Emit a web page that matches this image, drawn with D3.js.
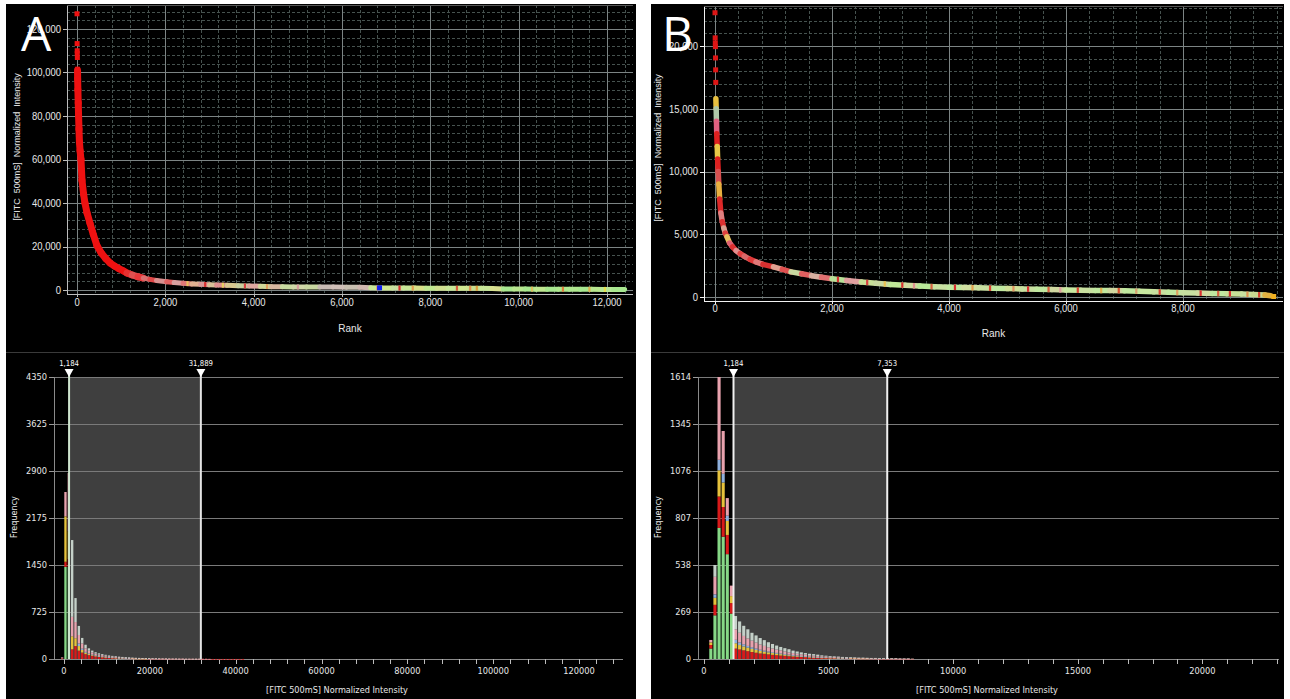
<!DOCTYPE html>
<html><head><meta charset="utf-8">
<script src="https://cdn.jsdelivr.net/npm/d3@7"></script>
<style>body{margin:0;background:#fff;}svg{display:block}</style>
</head><body>
<svg id="c" width="1290" height="699"></svg>
<script>
// ---------------- DATA ----------------
// Panel A - rank plot
const rankTicksA = [0,2000,4000,6000,8000,10000,12000];
const intensityTicksA = [0,20000,40000,60000,80000,100000,120000];
const rankA = [12,15,20,28,36,45,55,70,90,113,150,180,226,294,370,450,550,650,745,850,950,1050,1130,1250,1380,1500,1650,1800,2030,2200,2400,2600,2800,3000,3160,3400,3650,3900,4150,4400,4650,4900,5200,5500,5800,6100,6400,6650,6900,7150,7400,7650,7900,8150,8400,8650,8900,9150,9400,9650,9900,10150,10400,10650,10900,11150,11400,11650,11900,12150,12400];
const intensityA = [101000,97000,92000,86000,80000,74000,68000,64000,60000,50400,44000,40000,35500,30700,25500,20500,17000,14500,12500,11000,9800,8800,7800,6900,6100,5500,4900,4400,3800,3400,3100,2800,2600,2400,2300,2150,2000,1850,1700,1550,1450,1400,1380,1360,1340,1320,1300,1000,950,920,900,880,860,840,820,800,780,760,740,450,430,410,390,370,350,330,310,290,270,250,230];
const segColorA = ["#ee1111","#ee1111","#ee1111","#ee1111","#ee1111","#ee1111","#ee1111","#ee1111","#ee1111","#ee1111","#ee1111","#ee1111","#ee1111","#ee1111","#ee1111","#ee1111","#ee1111","#ee1111","#ee1111","#ee1111","#ee1111","#ee1111",
 "#e83030","#e05050","#e8383a","#d87070","#e04848","#d89090","#e06060","#d8a0a0","#e07878","#e0b090","#d89898","#d8c098","#e09090","#d8c890","#c8d0a0","#e0a8a0","#d0d898","#d8b8a0","#c8dca0","#d0d8a8","#c8d8a0","#c8bcb4","#d0c0b8","#c8c0b0","#d0b8b0","#c8e898","#d0e890","#c8e0a0","#c8e898","#d8e088","#c0e890","#d0e090","#c8e898","#d0e890","#c8e090","#c8e898","#d8e090","#a8e890","#b8e890","#a8e890","#c0e890","#a8e890","#b0e890","#b0e890","#a8e890","#b8e890","#b8e898","#a8e890"];
const stripeRankA = [2500,2900,3300,3800,4300,5000,6800,7300,7600,8600,8900,9050,10300,11000,11600,11950];
const stripeValA  = [2950,2500,2200,1880,1600,1390,960,905,885,805,780,770,395,340,295,265];
const stripeColorA = ["#e8c060","#d83030","#e8d060","#d84040","#e0a060","#d8a0a0","#e09060","#d83030","#e0a050","#d86040","#e09050","#e0a040","#e0c060","#e08040","#e0b050","#e8e050"];
const pointRankA = [0,3,5,6,8,10,6850];
const pointValA = [127000,113300,110000,108700,106900,101500,1000];
const pointColorA = ["#ee1111","#ee1111","#ee1111","#ee1111","#ee1111","#ee1111","#1020ee"];

// Panel B - rank plot
const rankTicksB = [0,2000,4000,6000,8000];
const intensityTicksB = [0,5000,10000,15000,20000];
const rankB = [15,20,25,30,38,45,55,65,80,100,125,150,175,205,250,300,360,430,500,600,700,820,1000,1150,1300,1480,1650,1820,2000,2250,2500,2750,3000,3250,3500,3750,4000,4250,4500,4750,5000,5250,5500,5750,6000,6250,6500,6750,7000,7250,7500,7750,8000,8250,8500,8750,9000,9200,9400,9500];
const intensityB = [15800,15000,14000,13000,12000,11000,10000,9000,7800,6700,6000,5500,5100,4800,4300,4000,3700,3450,3250,3000,2800,2600,2400,2200,2000,1850,1700,1570,1450,1320,1200,1100,1000,930,870,820,780,760,730,700,670,640,610,590,560,540,520,510,500,450,410,370,340,310,280,260,240,200,160,100];
const segColorB = ["#e8c040","#b0c8a8","#e06080","#dd2020","#e8c848","#dd2020","#d85050","#e8b040","#dd2828","#e08080","#dd3030","#d8a090","#e04040","#e8c060","#e06070","#dd3030","#e09090","#e04040","#d86868","#e03838","#e07878","#d83030","#e0a090","#e05050","#c8d8a0","#e06060","#d8b0a0","#e07070","#b8e098","#e0a0a0","#c8e098","#c8d8a0","#c0e898","#d0dca0","#b8e898","#c8e0a0","#c0e8a0","#d0e0a0","#c8e0a0","#c0e8a0","#d0e098","#c8e0a0","#c0e8a0","#d0d8a0","#c8e8a0","#c8e0a0","#c0e8a0","#d0d8a0","#c0e8a0","#c8e8a0","#c8e0a0","#c0e8a0","#c8e0a0","#d0dca0","#c0e8a0","#c8e098","#c8e0a0","#c8d890","#e0b040"];
const stripeRankB = [2100,2300,2600,2900,3200,3400,3700,4100,4400,4700,5100,5350,5700,5900,6200,6600,6900,7200,7600,7900,8300,8600,8800,9100,9300];
const stripeValB  = [1400,1300,1160,1040,950,890,830,775,740,705,660,630,595,570,545,515,503,460,395,355,305,275,255,220,180];
const stripeColorB = ["#d83030","#e0a0a0","#d84040","#e8c050","#d83030","#e09090","#d86040","#d83030","#e0a050","#d84030","#e09060","#d83030","#d86040","#e0a0a0","#d84030","#e0b050","#d85030","#d8a070","#d84030","#e0a060","#d83030","#d86040","#d83030","#e09050","#d84030"];
const pointRankB = [0,3,5,7,9,11,13,9550];
const pointValB = [22650,20650,20250,19950,19050,18100,17100,40];
const pointColorB = ["#dd1515","#dd1515","#dd1515","#dd1515","#dd1515","#dd1515","#dd1515","#f0b020"];

// Histogram A (bin width 780, first bin starts at -780)
const histFreqTicksA = [0,725,1450,2175,2900,3625,4350];
const histIntTicksA = [0,20000,40000,60000,80000,100000,120000];
const thresholdsA = [1184,31889];
const greenA  = [0,1420,1420];
const redA    = [10,80,120,150,200,130,100,75,60,50,42,36,31,27,23,20,18,15,14,12,11,10,9,8,7,6,6,5,5,4,4,4,3,3,3,3,3,2,2,2,2,2,2,2,1,1,1,1,1,1,1,1,1,1,1];
const yellowA = [0,700,430,200,120,70,40,25,18,14,10,8,7,6,5,4,4,3,3,2,2,2,1,1,1,1];
const blueA   = [0,0,0,0,0,40,20,10,8,6,5,4,3,3,2,2,2,1,1,1,1];
const pinkA   = [15,376,900,300,250,130,80,55,42,32,26,22,19,16,14,12,10,9,8,7,6,5,5,4,4,3,3,3,3,3,2,2,2,2,2,1,1,1,1,1,1,1,1,1,1];
const grayA   = [0,0,0,1185,370,140,85,55,37,28,22,18,15,13,11,10,8,8,6,6,5,5,4,4,3,3,3,3,2,2,2,2,2,1,1,1,1,1,1,1,1,1];

// Histogram B (bin width 165, first bin starts at 200)
const histFreqTicksB = [0,269,538,807,1076,1345,1614];
const histIntTicksB = [0,5000,10000,15000,20000];
const thresholdsB = [1184,7353];
const greenB  = [60,250,750,700,600,260];
const redB    = [20,60,180,170,110,60,60,55,50,45,40,36,32,30,27,24,22,20,18,16,14,13,12,11,10,9,8,7,7,6,6,5,5,4,4,4,3,3,3,3,3,2,2,2,2,2,1,1,1,1];
const yellowB = [15,40,150,140,80,40,30,25,22,20,18,16,14,12,11,10,9,8,7,6,5,5,4,4,3,3,3,2,2,2,2,1,1,1,1,1,1,1,1];
const blueB   = [0,20,60,50,30,0,20,15,12,10,9,8,7,6,5,5,4,4,3,3,3,2,2,2,2,1,1,1,1,1,1,1,1,1];
const pinkB   = [14,100,474,245,101,60,60,55,48,43,38,34,30,27,24,21,19,17,15,13,12,10,9,8,7,6,5,5,4,4,3,3,2,2,2,2,2,2,1,1,1,1,1,1,1,1,1,1,1];
const grayB   = [0,68,0,0,0,0,76,65,58,52,45,41,37,33,29,26,23,20,19,18,14,13,11,9,8,9,8,6,5,4,3,4,3,3,3,2,2,2,2,2,2,2,2,1,1,1,1,1,1,1];

// ---------------- DRAWING ----------------
const svg = d3.select("#c");
const fmt = d3.format(",");
const catKeys = ["green","red","yellow","blue","pink","gray"];
const catColor = {green:"#86d886", red:"#d81a1a", yellow:"#e6c23c", blue:"#8fb0dc", pink:"#e8a2ae", gray:"#c4d0c8"};

function ctext(g, x, y, txt, o) {
  return g.append("text")
    .attr("transform", `translate(${x},${y}) ${o.rot ? "rotate(" + o.rot + ")" : ""} scale(${o.sx || 1},1)`)
    .attr("text-anchor", o.anchor || "start")
    .attr("dy", o.dy || 0)
    .style("font-family", o.font)
    .style("font-size", o.size + "px")
    .style("white-space", "pre")
    .attr("fill", o.fill || "#e8e8e8")
    .text(txt);
}

// panels
svg.append("rect").attr("x",6).attr("y",4).attr("width",630).attr("height",695).attr("fill","#000");
svg.append("rect").attr("x",651).attr("y",4).attr("width",633).attr("height",695).attr("fill","#000");
[[6,636],[651,1284]].forEach(([a,b]) => {
  svg.append("line").attr("x1",a).attr("x2",b).attr("y1",352.5).attr("y2",352.5).attr("stroke","#3a3a3a");
});

function drawRank(c) {
  const x = d3.scaleLinear().domain(c.xRef).range(c.xPix);
  const y = d3.scaleLinear().domain(c.yRef).range(c.yPix);
  const g = svg.append("g");
  const px = v => Math.round(x(v)) + 0.5, py = v => Math.round(y(v)) + 0.5;
  // minor grid
  g.append("g").selectAll("line").data(c.xMinor.filter(v => !c.xTicks.includes(v))).join("line")
    .attr("x1", px).attr("x2", px).attr("y1", c.top).attr("y2", c.bottom)
    .attr("stroke", "#46524f").attr("stroke-dasharray", "3,2");
  g.append("g").selectAll("line").data(c.yMinor.filter(v => !c.yTicks.includes(v))).join("line")
    .attr("y1", py).attr("y2", py).attr("x1", c.left).attr("x2", c.right)
    .attr("stroke", "#46524f").attr("stroke-dasharray", "3,2");
  // major grid
  g.append("g").selectAll("line").data(c.xTicks).join("line")
    .attr("x1", px).attr("x2", px).attr("y1", c.top).attr("y2", c.bottom)
    .attr("stroke", "#7c8484");
  g.append("g").selectAll("line").data(c.yTicks).join("line")
    .attr("y1", py).attr("y2", py).attr("x1", c.left).attr("x2", c.right)
    .attr("stroke", "#7c8484");
  // frame / axes
  g.append("line").attr("x1", c.left + 0.5).attr("x2", c.left + 0.5).attr("y1", c.top).attr("y2", c.bottom).attr("stroke", c.axisColor);
  g.append("line").attr("x1", c.left).attr("x2", c.right).attr("y1", c.bottom + 0.5).attr("y2", c.bottom + 0.5).attr("stroke", c.axisColor);
  g.append("line").attr("x1", c.left).attr("x2", c.right).attr("y1", c.top + 0.5).attr("y2", c.top + 0.5).attr("stroke", "#555");
  // tick marks
  g.append("g").selectAll("line").data(c.yTicks).join("line")
    .attr("x1", c.left - 4).attr("x2", c.left).attr("y1", py).attr("y2", py).attr("stroke", c.axisColor);
  g.append("g").selectAll("line").data(c.xTicks).join("line")
    .attr("x1", px).attr("x2", px).attr("y1", c.bottom).attr("y2", c.bottom + 3).attr("stroke", c.axisColor);
  // tick labels
  c.yTicks.forEach(v => ctext(g, c.left - 6, y(v), fmt(v), {anchor: "end", dy: "0.36em", font: "Liberation Sans", size: 11, sx: 0.86}));
  c.xTicks.forEach(v => ctext(g, x(v), c.xLabelY, fmt(v), {anchor: "middle", font: "Liberation Sans", size: 11, sx: 0.86}));
  // titles
  ctext(g, (c.left + c.right) / 2, c.rankTitleY, "Rank", {anchor: "middle", font: "Liberation Sans", size: 10});
  ctext(g, c.yTitleX, c.yTitleY, "[FITC  500mS]  Normalized  Intensity", {anchor: "middle", font: "Liberation Sans", size: 9, rot: -90});
  // curve segments
  const wOf = v => v > c.thickAbove ? c.wHead : c.wTail;
  const segs = c.rank.slice(1).map((r, i) => ({r0: c.rank[i], v0: c.val[i], r1: r, v1: c.val[i + 1], col: c.colors[i]}));
  g.append("g").selectAll("line").data(segs).join("line")
    .attr("x1", d => x(d.r0)).attr("y1", d => y(d.v0)).attr("x2", d => x(d.r1)).attr("y2", d => y(d.v1))
    .attr("stroke", d => d.col).attr("stroke-linecap", "round")
    .attr("stroke-width", d => wOf(d.v0));
  // thin colour stripes along the tail
  const stripes = c.sRank.map((r, i) => ({r, v: c.sVal[i], col: c.sCol[i]}));
  g.append("g").selectAll("rect").data(stripes).join("rect")
    .attr("x", d => x(d.r) - 1).attr("width", 2.2)
    .attr("y", d => y(d.v) - wOf(d.v) / 2).attr("height", d => wOf(d.v))
    .attr("fill", d => d.col);
  // points
  const pts = c.pRank.map((r, i) => ({r, v: c.pVal[i], col: c.pCol[i]}));
  g.append("g").selectAll("rect").data(pts).join("rect")
    .attr("x", d => x(d.r) - 2.5).attr("y", d => y(d.v) - 2.5).attr("width", 5).attr("height", 5)
    .attr("fill", d => d.col);
}

drawRank({
  left: 67, right: 633, top: 5, bottom: 294,
  xRef: [0, 12000], xPix: [77, 607], yRef: [0, 120000], yPix: [290, 29],
  xTicks: rankTicksA, yTicks: intensityTicksA,
  xMinor: d3.range(0, 12600, 400), yMinor: d3.range(0, 131000, 4000),
  axisColor: "#bdbdbd", xLabelY: 306, rankTitleY: 332, yTitleX: 20, yTitleY: 147,
  rank: rankA, val: intensityA, colors: segColorA, thickAbove: 6000, wHead: 7, wTail: 5,
  sRank: stripeRankA, sVal: stripeValA, sCol: stripeColorA,
  pRank: pointRankA, pVal: pointValA, pCol: pointColorA
});
drawRank({
  left: 704, right: 1283, top: 6, bottom: 301,
  xRef: [0, 8000], xPix: [715, 1183], yRef: [0, 20000], yPix: [297, 46],
  xTicks: rankTicksB, yTicks: intensityTicksB,
  xMinor: d3.range(0, 9700, 400), yMinor: d3.range(0, 23200, 1000),
  axisColor: "#f2f2f2", xLabelY: 312, rankTitleY: 337, yTitleX: 661, yTitleY: 148,
  rank: rankB, val: intensityB, colors: segColorB, thickAbove: 100000, wHead: 5.5, wTail: 5.5,
  sRank: stripeRankB, sVal: stripeValB, sCol: stripeColorB,
  pRank: pointRankB, pVal: pointValB, pCol: pointColorB
});

function drawHist(c) {
  const x = d3.scaleLinear().domain(c.xRef).range(c.xPix);
  const yMax = c.yTicks[c.yTicks.length - 1];
  const y = d3.scaleLinear().domain([0, yMax]).range([659, 377]);
  const g = svg.append("g");
  const py = v => Math.round(y(v)) + 0.5;
  // shaded threshold region
  g.append("rect").attr("x", x(c.thr[0])).attr("y", y(yMax))
    .attr("width", x(c.thr[1]) - x(c.thr[0])).attr("height", y(0) - y(yMax))
    .attr("fill", "#3f3f3f");
  // grid
  g.append("g").selectAll("line").data(c.yTicks.slice(1)).join("line")
    .attr("x1", c.axisX).attr("x2", c.right).attr("y1", py).attr("y2", py).attr("stroke", "#7a7a7a");
  // y axis
  g.append("line").attr("x1", c.axisX + 0.5).attr("x2", c.axisX + 0.5).attr("y1", y(yMax)).attr("y2", 659).attr("stroke", "#8a8a8a");
  g.append("g").selectAll("line").data(c.yTicks).join("line")
    .attr("x1", c.axisX - 5).attr("x2", c.axisX).attr("y1", py).attr("y2", py).attr("stroke", "#9a9a9a");
  c.yTicks.forEach(v => ctext(g, c.axisX - 7, y(v), String(v), {anchor: "end", dy: "0.36em", font: "DejaVu Sans", size: 9.5, sx: 0.87}));
  // x axis
  g.append("line").attr("x1", c.xStart).attr("x2", c.right).attr("y1", 659.5).attr("y2", 659.5).attr("stroke", "#8a8a8a");
  g.append("g").selectAll("line").data(c.xMinor).join("line")
    .attr("x1", d => Math.round(x(d)) + 0.5).attr("x2", d => Math.round(x(d)) + 0.5).attr("y1", 659).attr("y2", 664).attr("stroke", "#bbbbbb");
  c.xTicks.forEach(v => ctext(g, x(v), 674, String(v), {anchor: "middle", font: "DejaVu Sans", size: 9.5, sx: 0.87}));
  // titles
  ctext(g, c.titleX, 693, "[FITC 500mS] Normalized Intensity", {anchor: "middle", font: "DejaVu Sans", size: 9.5, sx: 0.86});
  ctext(g, c.freqX, 517, "Frequency", {anchor: "middle", font: "DejaVu Sans", size: 9, sx: 0.9, rot: -90});
  // stacked bars
  const n = d3.max(c.cats, a => a.length);
  const rows = d3.range(n).map(i => {
    const r = {start: c.binStart + i * c.binW};
    catKeys.forEach((k, j) => r[k] = c.cats[j][i] || 0);
    return r;
  });
  const stacked = d3.stack().keys(catKeys)(rows);
  g.append("g").selectAll("g").data(stacked).join("g").attr("fill", d => catColor[d.key])
    .selectAll("rect").data(d => d.filter(p => p[1] > p[0])).join("rect")
    .attr("x", d => x(d.data.start) + 0.3)
    .attr("width", d => Math.max(1, x(d.data.start + c.binW) - x(d.data.start) - c.gap))
    .attr("y", d => y(d[1])).attr("height", d => Math.max(0.8, y(d[0]) - y(d[1])));
  // thresholds
  c.thr.forEach((t, i) => {
    const xx = x(t);
    g.append("line").attr("x1", xx).attr("x2", xx).attr("y1", 371).attr("y2", 659).attr("stroke", c.thrColor[i]).attr("stroke-width", 2);
    g.append("path").attr("d", `M${xx - 4.5},369 L${xx + 4.5},369 L${xx},377 Z`).attr("fill", "#fff");
    ctext(g, xx, 366, fmt(t), {anchor: "middle", font: "DejaVu Sans", size: 8, sx: 0.87, fill: "#fff"});
  });
}

drawHist({
  xRef: [0, 120000], xPix: [64, 579], axisX: 54, xStart: 50, right: 623,
  yTicks: histFreqTicksA, xTicks: histIntTicksA, xMinor: d3.range(0, 130000, 4000),
  thr: thresholdsA, thrColor: ["#cfe6cf", "#e4e4e4"], titleX: 337, freqX: 17,
  binStart: -780, binW: 780, gap: 1,
  cats: [greenA, redA, yellowA, blueA, pinkA, grayA]
});
drawHist({
  xRef: [0, 20000], xPix: [704, 1202.4], axisX: 698, xStart: 695, right: 1279,
  yTicks: histFreqTicksB, xTicks: histIntTicksB, xMinor: d3.range(0, 23001, 1000),
  thr: thresholdsB, thrColor: ["#f0f0f0", "#f0f0f0"], titleX: 987, freqX: 661,
  binStart: 200, binW: 165, gap: 1,
  cats: [greenB, redB, yellowB, blueB, pinkB, grayB]
});

// panel letters
ctext(svg, 21, 51, "A", {font: "Open Sans", size: 48, fill: "#fff"});
ctext(svg, 662, 51, "B", {font: "Open Sans", size: 48, fill: "#fff"});
</script>
</body></html>
